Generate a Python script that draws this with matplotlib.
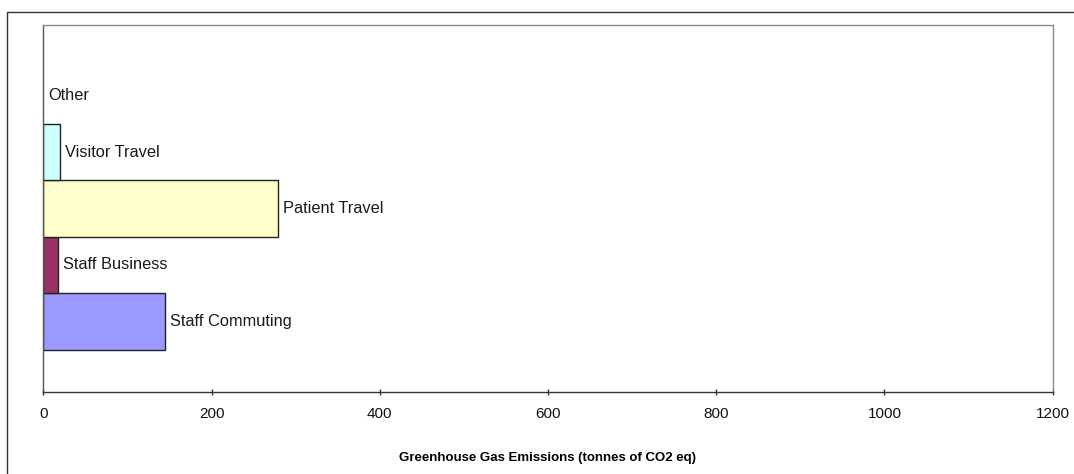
import matplotlib
matplotlib.use("Agg")
import matplotlib.pyplot as plt
from matplotlib.patches import Rectangle
from matplotlib.transforms import offset_copy

categories = ["Staff Commuting", "Staff Business", "Patient Travel", "Visitor Travel", "Other"]
values = [145, 18, 279, 20, 0]
colors = ["#9999FF", "#993366", "#FFFFCC", "#CCFFFF", "#FFFFFF"]
xticks = [0, 200, 400, 600, 800, 1000, 1200]
xlabel = "Greenhouse Gas Emissions (tonnes of CO2 eq)"

narrow = ["Liberation Sans Narrow", "Liberation Sans", "DejaVu Sans"]
regular = ["Liberation Sans", "DejaVu Sans"]

fig = plt.figure(figsize=(10.74, 4.74), dpi=100)
fig.patch.set_facecolor("white")

# outer frame (only top and left visible in the crop)
fig.patches.append(Rectangle((7 / 1074, -0.1), 1.2, 1 - 12 / 474 + 0.1,
                             transform=fig.transFigure, fill=False,
                             edgecolor="#333333", lw=1.0))

ax = fig.add_axes([43.3 / 1074, 82 / 474, 1009.4 / 1074, 367 / 474])
ypos = list(range(len(categories)))
for y, v, c in zip(ypos, values, colors):
    if v > 0:
        ax.barh(y, v, height=1.0, color=c, edgecolor="#222222", linewidth=1.0)

ax.set_xlim(0, 1200)
ax.set_ylim(-1.25, 5.25)
ax.set_yticks([])
ax.set_xticks(xticks)
ax.set_xticklabels([str(t) for t in xticks], family=narrow, fontsize=11, color="#111111")
ax.tick_params(axis="x", direction="inout", length=5, width=1, color="#333333", pad=8.5)

for y, v, name in zip(ypos, values, categories):
    tr = offset_copy(ax.transData, fig=fig, x=5, y=0, units="dots")
    ax.text(v, y, name, transform=tr, ha="left", va="center",
            family=regular, fontsize=11.8, color="#1a1a1a")

ax.set_xlabel(xlabel, family=narrow, fontsize=9.5, fontweight="bold", labelpad=22)

ax.spines["left"].set_color("#555555")
ax.spines["bottom"].set_color("#333333")
ax.spines["top"].set_color("#8c8c8c")
ax.spines["right"].set_color("#8c8c8c")
for s in ax.spines.values():
    s.set_linewidth(1.0)

fig.savefig("out.png", dpi=100)
